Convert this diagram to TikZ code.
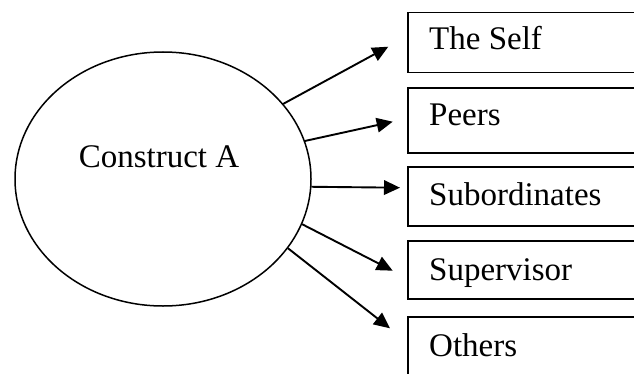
\documentclass[tikz,border=0pt]{standalone}
\usepackage{fontspec}
\setmainfont{Liberation Serif}
\usetikzlibrary{shapes.geometric,arrows.meta}
\begin{document}
\begin{tikzpicture}[x=1pt,y=1pt,
  txt/.style={inner sep=0pt,font=\fontsize{33}{38}\selectfont},
  boxnode/.style={draw,line width=1.8pt,minimum width=300pt,inner sep=0pt,anchor=north west},
  conn/.style={line width=1.9pt,-{Triangle[length=16pt,width=14.5pt]}}]
\clip (0,0) rectangle (634,373);
\node[draw,ellipse,line width=1.5pt,minimum width=296pt,minimum height=254pt,inner sep=0pt] (A) at (163,194) {};
\node[txt,anchor=base] (lbl) at (159,206) {Construct A};
% boxes
\node[boxnode,minimum height=60pt] (b1) at (407,361.3) {};
\node[boxnode,minimum height=65pt] (b2) at (407,285.7) {};
\node[boxnode,minimum height=59pt] (b3) at (407,207.3) {};
\node[boxnode,minimum height=58pt] (b4) at (407,133) {};
\node[boxnode,minimum height=70pt] (b5) at (407,57) {};
\node[txt,anchor=base west] (t1) at (429,323) {The Self};
\node[txt,anchor=base west] (t2) at (429,248) {Peers};
\node[txt,anchor=base west] (t3) at (429,168) {Subordinates};
\node[txt,anchor=base west] (t4) at (429,93) {Supervisor};
\node[txt,anchor=base west] (t5) at (429,16.3) {Others};
% arrow tips
\coordinate (p1) at (388.3,326.3);
\coordinate (p2) at (392.7,251.3);
\coordinate (p3) at (400,185.3);
\coordinate (p4) at (392.7,102.3);
\coordinate (p5) at (390,44.7);
\draw[conn] (A.32.3) -- (p1);
\draw[conn] (A.15.8) -- (p2);
\draw[conn] (A.-3.4) -- (p3);
\draw[conn] (A.-18.6) -- (p4);
\draw[conn] (A.-29.9) -- (p5);
\end{tikzpicture}
\end{document}
